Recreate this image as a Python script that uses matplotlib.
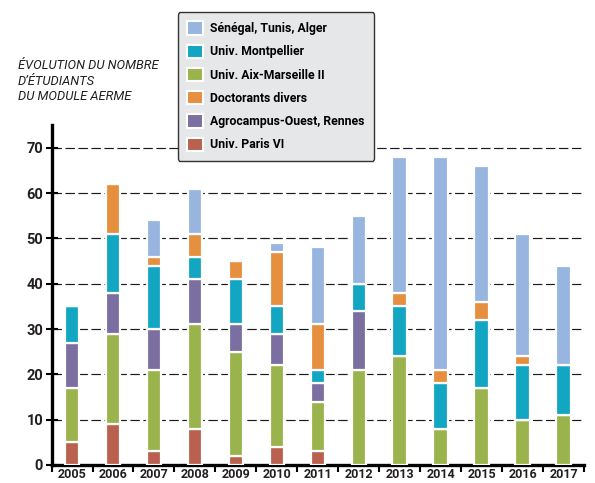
import matplotlib.pyplot as plt
import numpy as np

years = ['2005', '2006', '2007', '2008', '2009', '2010', '2011',
         '2012', '2013', '2014', '2015', '2016', '2017']

# student counts per origin (stacked bottom to top)
paris = [5, 9, 3, 8, 2, 4, 3, 0, 0, 0, 0, 0, 0]
aix = [12, 20, 18, 23, 23, 18, 11, 21, 24, 8, 17, 10, 11]
agro = [10, 9, 9, 10, 6, 7, 4, 13, 0, 0, 0, 0, 0]
montpellier = [8, 13, 14, 5, 10, 6, 3, 6, 11, 10, 15, 12, 11]
doctorants = [0, 11, 2, 5, 4, 12, 10, 0, 3, 3, 4, 2, 0]
senegal = [0, 0, 8, 10, 0, 2, 17, 15, 30, 47, 30, 27, 22]

series = [
    ('Univ. Paris VI', paris, '#b9604e'),
    ('Univ. Aix-Marseille II', aix, '#9bb34d'),
    ('Agrocampus-Ouest, Rennes', agro, '#7a6fa0'),
    ('Univ. Montpellier', montpellier, '#13a6c3'),
    ('Doctorants divers', doctorants, '#e68f3f'),
    ('Sénégal, Tunis, Alger', senegal, '#97b5de'),
]
legend_order = ['Sénégal, Tunis, Alger', 'Univ. Montpellier',
                'Univ. Aix-Marseille II', 'Doctorants divers',
                'Agrocampus-Ouest, Rennes', 'Univ. Paris VI']

plt.rcParams['font.family'] = ['Roboto', 'DejaVu Sans']

fig = plt.figure(figsize=(5.95, 4.83), dpi=100)
ax = fig.add_axes([0.0866, 0.0373, 0.8954, 0.7037])

x = np.arange(len(years))
bottom = np.zeros(len(years))
handles = {}
for label, vals, color in series:
    vals = np.array(vals, dtype=float)
    b = ax.bar(x, vals, width=0.36, bottom=bottom, color=color,
               edgecolor='white', linewidth=1.6, label=label, zorder=3)
    handles[label] = b
    bottom += vals

ax.set_xlim(-0.5, len(years) - 0.5)
ax.set_ylim(0, 75)
ax.set_yticks(range(0, 80, 10))
ax.set_xticks(x)
ax.set_xticklabels(years, fontsize=9, fontweight='bold', color='#231f20')
ax.set_xticks(np.arange(-0.5, len(years)), minor=True)
ax.tick_params(axis='x', which='major', length=0, pad=2)
ax.tick_params(axis='x', which='minor', direction='out', length=5, width=1.5)
ax.tick_params(axis='y', direction='inout', length=8, width=1.5, pad=2,
               labelsize=10.5)
for t in ax.get_yticklabels():
    t.set_fontweight('bold')
    t.set_color('#231f20')

for yv in range(10, 80, 10):
    ax.axhline(yv, color='#1a1a1a', lw=0.85, dashes=(8, 3), zorder=1)

for s in ['top', 'right']:
    ax.spines[s].set_visible(False)
for s in ['left', 'bottom']:
    ax.spines[s].set_linewidth(2.4)
    ax.spines[s].set_color('#000000')

fig.text(0.03, 0.877, 'ÉVOLUTION DU NOMBRE\nD’ÉTUDIANTS\nDU MODULE AERME',
         fontsize=9.3, style='italic', color='#231f20', va='top', ha='left',
         linespacing=1.22)

leg = fig.legend([handles[k] for k in legend_order], legend_order,
                 loc='upper left', bbox_to_anchor=(0.299, 0.975),
                 frameon=True, fancybox=True, facecolor='#e6e7e8',
                 edgecolor='#333333', framealpha=1,
                 prop={'weight': 'bold', 'size': 8.8},
                 handlelength=1.3, handleheight=1.3, handletextpad=0.6,
                 labelspacing=0.78, borderpad=0.75, borderaxespad=0)
leg.get_frame().set_linewidth(1.0)
leg.set_zorder(5)
for h in leg.legend_handles:
    h.set_edgecolor('white')
    h.set_linewidth(1.5)

fig.savefig('out.png', dpi=100)
